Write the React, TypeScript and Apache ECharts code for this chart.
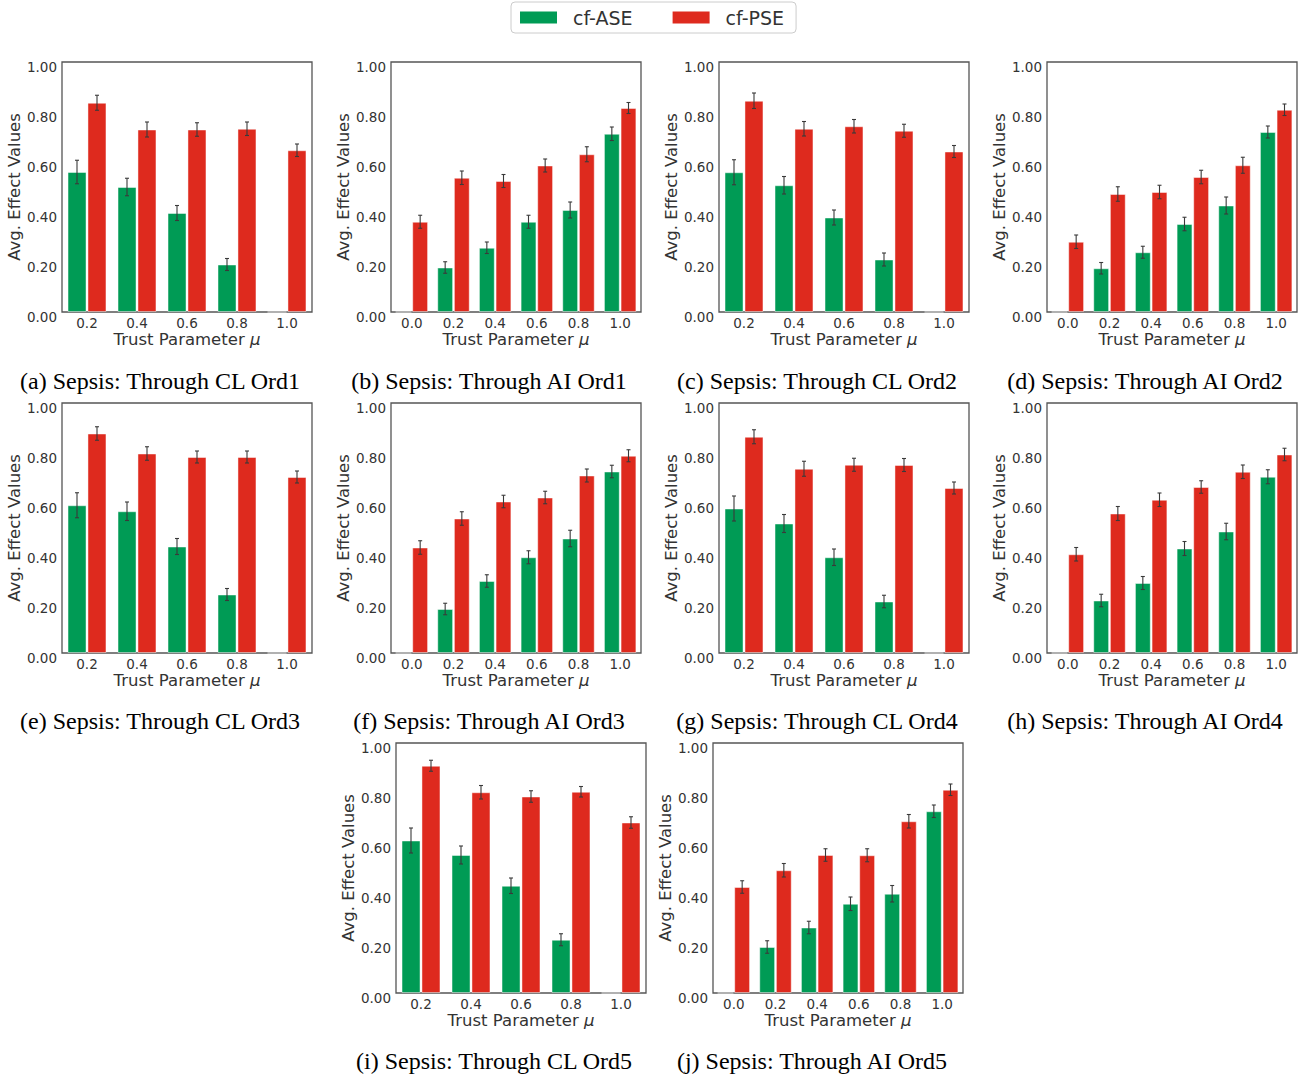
import React, { useEffect, useRef } from "react";
import * as echarts from "echarts";

const CL_MU = ["0.2", "0.4", "0.6", "0.8", "1.0"];
const AI_MU = ["0.0", "0.2", "0.4", "0.6", "0.8", "1.0"];
const Y_TICKS = [0, 0.2, 0.4, 0.6, 0.8, 1.0];

// (a) Through CL Ord1
const aAse = [0.56, 0.5, 0.396, 0.19, 0];
const aAseErr = [0.047, 0.035, 0.03, 0.024, 0];
const aPse = [0.837, 0.73, 0.73, 0.733, 0.647];
const aPseErr = [0.03, 0.03, 0.027, 0.027, 0.025];
// (b) Through AI Ord1
const bAse = [0, 0.178, 0.257, 0.361, 0.408, 0.713];
const bAseErr = [0, 0.023, 0.023, 0.026, 0.032, 0.027];
const bPse = [0.361, 0.537, 0.524, 0.586, 0.631, 0.816];
const bPseErr = [0.026, 0.027, 0.026, 0.026, 0.03, 0.022];
// (c) Through CL Ord2
const cAse = [0.559, 0.507, 0.378, 0.21, 0];
const cAseErr = [0.05, 0.035, 0.03, 0.026, 0];
const cPse = [0.845, 0.733, 0.743, 0.725, 0.642];
const cPseErr = [0.031, 0.029, 0.027, 0.026, 0.024];
// (d) Through AI Ord2
const dAse = [0, 0.175, 0.239, 0.352, 0.426, 0.72];
const dAseErr = [0, 0.023, 0.024, 0.027, 0.034, 0.024];
const dPse = [0.281, 0.472, 0.48, 0.54, 0.587, 0.809];
const dPseErr = [0.027, 0.029, 0.027, 0.027, 0.032, 0.023];
// (e) Through CL Ord3
const eAse = [0.591, 0.567, 0.426, 0.234, 0];
const eAseErr = [0.05, 0.037, 0.032, 0.024, 0];
const ePse = [0.878, 0.798, 0.784, 0.784, 0.704];
const ePseErr = [0.027, 0.027, 0.024, 0.024, 0.024];
// (f) Through AI Ord3
const fAse = [0, 0.176, 0.288, 0.383, 0.458, 0.726];
const fAseErr = [0, 0.023, 0.025, 0.026, 0.033, 0.025];
const fPse = [0.422, 0.538, 0.606, 0.622, 0.71, 0.789];
const fPseErr = [0.027, 0.027, 0.025, 0.025, 0.026, 0.024];
// (g) Through CL Ord4
const gAse = [0.578, 0.518, 0.383, 0.206, 0];
const gAseErr = [0.05, 0.036, 0.033, 0.025, 0];
const gPse = [0.865, 0.737, 0.753, 0.752, 0.66];
const gPseErr = [0.028, 0.03, 0.026, 0.026, 0.024];
// (h) Through AI Ord4
const hAse = [0, 0.21, 0.28, 0.418, 0.486, 0.705];
const hAseErr = [0, 0.025, 0.026, 0.028, 0.033, 0.028];
const hPse = [0.395, 0.558, 0.613, 0.664, 0.725, 0.794];
const hPseErr = [0.027, 0.028, 0.027, 0.025, 0.027, 0.025];
// (i) Through CL Ord5
const iAse = [0.61, 0.552, 0.429, 0.213, 0];
const iAseErr = [0.05, 0.036, 0.031, 0.024, 0];
const iPse = [0.909, 0.803, 0.786, 0.805, 0.682];
const iPseErr = [0.022, 0.027, 0.023, 0.021, 0.023];
// (j) Through AI Ord5
const jAse = [0, 0.184, 0.262, 0.357, 0.397, 0.727];
const jAseErr = [0, 0.025, 0.025, 0.027, 0.033, 0.025];
const jPse = [0.424, 0.491, 0.552, 0.551, 0.687, 0.813];
const jPseErr = [0.025, 0.027, 0.025, 0.026, 0.027, 0.023];

const TITLES = [
  "(a) Sepsis: Through CL Ord1",
  "(b) Sepsis: Through AI Ord1",
  "(c) Sepsis: Through CL Ord2",
  "(d) Sepsis: Through AI Ord2",
  "(e) Sepsis: Through CL Ord3",
  "(f) Sepsis: Through AI Ord3",
  "(g) Sepsis: Through CL Ord4",
  "(h) Sepsis: Through AI Ord4",
  "(i) Sepsis: Through CL Ord5",
  "(j) Sepsis: Through AI Ord5",
];

const PANELS = [
  { cats: CL_MU, ase: aAse, aseErr: aAseErr, pse: aPse, pseErr: aPseErr },
  { cats: AI_MU, ase: bAse, aseErr: bAseErr, pse: bPse, pseErr: bPseErr },
  { cats: CL_MU, ase: cAse, aseErr: cAseErr, pse: cPse, pseErr: cPseErr },
  { cats: AI_MU, ase: dAse, aseErr: dAseErr, pse: dPse, pseErr: dPseErr },
  { cats: CL_MU, ase: eAse, aseErr: eAseErr, pse: ePse, pseErr: ePseErr },
  { cats: AI_MU, ase: fAse, aseErr: fAseErr, pse: fPse, pseErr: fPseErr },
  { cats: CL_MU, ase: gAse, aseErr: gAseErr, pse: gPse, pseErr: gPseErr },
  { cats: AI_MU, ase: hAse, aseErr: hAseErr, pse: hPse, pseErr: hPseErr },
  { cats: CL_MU, ase: iAse, aseErr: iAseErr, pse: iPse, pseErr: iPseErr },
  { cats: AI_MU, ase: jAse, aseErr: jAseErr, pse: jPse, pseErr: jPseErr },
];

// layout (pixel positions of each axes box and its title)
const GRID_POS = [
  [62, 62], [391, 62], [719, 62], [1047, 62],
  [62, 403], [391, 403], [719, 403], [1047, 403],
  [396, 743], [713, 743],
];
const TITLE_POS = [
  [160, 381], [489, 381], [817, 381], [1145, 381],
  [160, 721], [489, 721], [817, 721], [1145, 721],
  [494, 1061], [812, 1061],
];
const BOX = 250;

const GREEN = "#009b55";
const RED = "#de2a1e";
const SANS = "DejaVu Sans";

function errRender(params: any, api: any) {
  const ci = api.value(0);
  const v = api.value(1);
  const e = api.value(2);
  const side = api.value(3);
  if (!e) return null;
  const band = api.size([1, 0])[0];
  const off = side * band * 0.2;
  const top = api.coord([ci, v + e]);
  const bot = api.coord([ci, v - e]);
  const x = top[0] + off;
  const cap = 2;
  const style = { stroke: "#3a3a3a", lineWidth: 1.1 };
  return {
    type: "group",
    children: [
      { type: "line", shape: { x1: x, y1: top[1], x2: x, y2: bot[1] }, style },
      { type: "line", shape: { x1: x - cap, y1: top[1], x2: x + cap, y2: top[1] }, style },
      { type: "line", shape: { x1: x - cap, y1: bot[1], x2: x + cap, y2: bot[1] }, style },
    ],
  };
}

function buildOption() {
  const grid: any[] = [];
  const xAxis: any[] = [];
  const yAxis: any[] = [];
  const series: any[] = [];
  const graphic: any[] = [];

  PANELS.forEach((p, k) => {
    const [gx, gy] = GRID_POS[k];
    grid.push({
      left: gx,
      top: gy,
      width: BOX,
      height: BOX,
      show: true,
      borderColor: "#555",
      borderWidth: 1.3,
      backgroundColor: "transparent",
    });
    xAxis.push({
      type: "category",
      gridIndex: k,
      data: p.cats,
      axisTick: { show: false },
      axisLine: { show: false },
      axisLabel: { fontSize: 13.5, color: "#333", margin: 4, fontFamily: SANS },
      name: "Trust Parameter {i|μ}",
      nameLocation: "middle",
      nameGap: 17,
      nameTextStyle: {
        fontSize: 16.5,
        color: "#333",
        fontFamily: SANS,
        rich: { i: { fontSize: 16.5, color: "#333", fontStyle: "italic", fontFamily: SANS } },
      },
    });
    yAxis.push({
      type: "value",
      gridIndex: k,
      min: Y_TICKS[0],
      max: Y_TICKS[Y_TICKS.length - 1],
      interval: 0.2,
      splitLine: { show: false },
      axisTick: { show: false },
      axisLine: { show: false },
      axisLabel: {
        fontSize: 13.5,
        color: "#333",
        margin: 5,
        fontFamily: SANS,
        verticalAlign: "top",
        lineHeight: 10,
        formatter: (v: number) => v.toFixed(2),
      },
      name: "Avg. Effect Values",
      nameLocation: "middle",
      nameGap: 37,
      nameTextStyle: { fontSize: 16.5, color: "#333", fontFamily: SANS },
    });
    const barCommon = {
      type: "bar",
      xAxisIndex: k,
      yAxisIndex: k,
      barWidth: "38%",
      barGap: "5%",
    };
    series.push({
      ...barCommon,
      name: "cf-ASE",
      data: p.ase,
      itemStyle: { color: GREEN, borderColor: "rgba(255,255,255,0.45)", borderWidth: 1 },
    });
    series.push({
      ...barCommon,
      name: "cf-PSE",
      data: p.pse,
      itemStyle: { color: RED, borderColor: "rgba(255,255,255,0.45)", borderWidth: 1 },
    });
    const errData: number[][] = [];
    p.ase.forEach((v, i) => errData.push([i, v, p.aseErr[i], -1]));
    p.pse.forEach((v, i) => errData.push([i, v, p.pseErr[i], 1]));
    series.push({
      type: "custom",
      name: "err" + k,
      xAxisIndex: k,
      yAxisIndex: k,
      renderItem: errRender,
      encode: { x: 0, y: 1 },
      data: errData,
      z: 5,
      silent: true,
    });

    const [tx, ty] = TITLE_POS[k];
    graphic.push({
      type: "text",
      x: tx,
      y: ty,
      style: {
        text: TITLES[k],
        fontFamily: "Liberation Serif",
        fontSize: 24,
        fill: "#000",
        textAlign: "center",
        textVerticalAlign: "middle",
      },
    });
  });

  return {
    animation: false,
    backgroundColor: "#fff",
    textStyle: { fontFamily: SANS },
    legend: {
      data: ["cf-ASE", "cf-PSE"],
      left: 511,
      top: 2,
      orient: "horizontal",
      padding: [6, 12, 6, 9],
      itemGap: 40,
      itemWidth: 37,
      itemHeight: 12,
      icon: "rect",
      borderColor: "#ccc",
      borderWidth: 1,
      borderRadius: 4,
      itemStyle: { borderWidth: 0 },
      textStyle: { fontSize: 19, color: "#333", fontFamily: SANS, padding: [0, 0, 0, 11] },
      selectedMode: false,
    },
    grid,
    xAxis,
    yAxis,
    series,
    graphic,
  };
}

export default function App() {
  const ref = useRef<HTMLDivElement>(null);
  useEffect(() => {
    if (!ref.current) return;
    const chart = echarts.init(ref.current, undefined, { renderer: "svg" });
    chart.setOption(buildOption() as any);
    return () => chart.dispose();
  }, []);
  return (
    <div
      ref={ref}
      style={{ position: "absolute", left: 0, top: 0, width: 1301, height: 1078 }}
    />
  );
}
